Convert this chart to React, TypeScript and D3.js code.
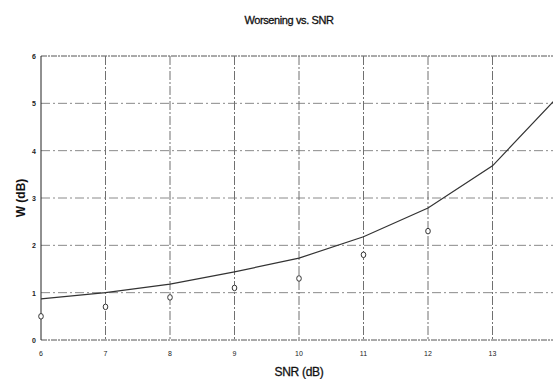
import * as d3 from 'd3'

// SNR (dB) points
const snr = [6, 7, 8, 9, 10, 11, 12, 13, 14]
// theoretical worsening curve (dB)
const curveW = [0.87, 1.0, 1.18, 1.44, 1.73, 2.18, 2.79, 3.68, 5.12]
// measured points
const measSnr = [6, 7, 8, 9, 10, 11, 12]
const measW = [0.5, 0.7, 0.9, 1.1, 1.3, 1.8, 2.3]
const xTicks = [6, 7, 8, 9, 10, 11, 12, 13]
const yTicks = [0, 1, 2, 3, 4, 5, 6]

export default function App() {
  const width = 553
  const height = 379
  const left = 41
  const right = 553
  const top = 56
  const bottom = 340

  const x = d3.scaleLinear().domain([6, 6 + (right - left) / 64.5]).range([left, right])
  const y = d3.scaleLinear().domain([0, 6]).range([bottom, top])

  const line = d3.line<number>()
    .x((_, i) => x(snr[i]))
    .y(d => y(d))

  const font = 'Arial, "Liberation Sans", sans-serif'

  return (
    <svg width={width} height={height} style={{ position: 'absolute', left: 0, top: 0, background: '#fff' }}>
      <defs>
        <clipPath id="plot">
          <rect x={left} y={top - 2} width={right - left} height={bottom - top + 4} />
        </clipPath>
      </defs>
      <text x={289} y={24} textAnchor="middle" fontFamily={font} fontSize={11} fill="#111"
        stroke="#111" strokeWidth={0.3} letterSpacing={-0.4}>
        Worsening vs. SNR
      </text>

      {/* grid */}
      {yTicks.map(t => (
        <line key={'gy' + t} x1={left} x2={right} y1={y(t)} y2={y(t)}
          stroke={t === 0 || t === 6 ? '#555' : '#8a8a8a'} strokeWidth={1}
          strokeDasharray={t === 0 || t === 6 ? '6,1,2,1' : '9,3,2,3'} />
      ))}
      {xTicks.map(t => (
        <line key={'gx' + t} x1={x(t)} x2={x(t)} y1={top} y2={bottom}
          stroke={t === 6 ? '#222' : '#707070'} strokeWidth={1}
          strokeDasharray={t === 6 ? undefined : '9,2,2,2'} />
      ))}

      {/* tick labels */}
      {yTicks.map(t => (
        <text key={'ty' + t} x={36} y={y(t) + 3} textAnchor="end" fontFamily={font} fontSize={7} fontWeight="bold" fill="#222">{t}</text>
      ))}
      {xTicks.map(t => (
        <text key={'tx' + t} x={x(t)} y={356} textAnchor="middle" fontFamily={font} fontSize={7} fill="#222">{t}</text>
      ))}

      <g clipPath="url(#plot)">
        <path d={line(curveW) ?? ''} fill="none" stroke="#333" strokeWidth={1.2} />
      </g>
      {measW.map((w, i) => (
        <ellipse key={'m' + i} cx={x(measSnr[i])} cy={y(w)} rx={2.3} ry={2.8} fill="#fff" stroke="#333" strokeWidth={1} />
      ))}

      <text transform={`translate(25,${(top + bottom) / 2}) rotate(-90)`} textAnchor="middle"
        fontFamily={font} fontSize={12} fontWeight="bold" fill="#111">W (dB)</text>
      <text x={x(10)} y={376} textAnchor="middle" fontFamily={font} fontSize={12} fill="#111"
        stroke="#111" strokeWidth={0.3} letterSpacing={-0.3}>
        SNR (dB)
      </text>
    </svg>
  )
}
